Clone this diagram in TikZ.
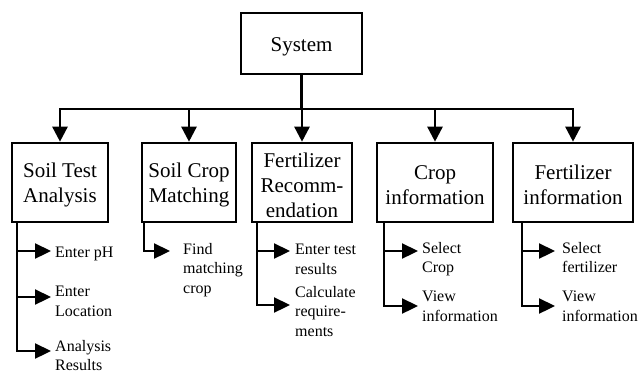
\documentclass[tikz,border=0pt]{standalone}
\usepackage{fontspec}
\setmainfont{Liberation Serif}
\usetikzlibrary{arrows.meta,calc}
\begin{document}
\begin{tikzpicture}[x=1pt,y=-1pt,
  box/.style={draw,line width=2.6pt,minimum height=79pt,inner sep=0pt},
  boxtext/.style={align=center,inner sep=0pt,font=\fontsize{21}{25}\selectfont},
  mainarr/.style={line width=2.5pt,-{Triangle[width=15pt,length=15pt]}},
  trunk/.style={line width=2.5pt},
  subarr/.style={line width=2.3pt,-{Triangle[width=15pt,length=16pt]}},
  lab/.style={anchor=north west,inner sep=0pt,align=left,font=\fontsize{16}{19.5}\selectfont}]
\useasboundingbox (0,0) rectangle (639,373);
% boxes
\node[box,minimum width=121pt,minimum height=61pt] (sys) at (301.5,43.5) {};
\node[box,minimum width=96pt] (b1) at (60,182.5) {};
\node[box,minimum width=94pt] (b2) at (189,182.5) {};
\node[box,minimum width=100pt] (b3) at (302,182.5) {};
\node[box,minimum width=116pt] (b4) at (435,182.5) {};
\node[box,minimum width=120pt] (b5) at (573,182.5) {};
\node[boxtext] (syst) at ([yshift=-3pt]sys.center) {System};
\node[boxtext] (b1t) at ([yshift=-2.5pt]b1.center) {Soil Test\\Analysis};
\node[boxtext] (b2t) at ([yshift=-2.5pt]b2.center) {Soil Crop\\Matching};
\node[boxtext] (b3t) at ([yshift=-2.5pt]b3.center) {Fertilizer\\Recomm-\\endation};
\node[boxtext] (b4t) at ([yshift=-2.5pt]b4.center) {Crop\\information};
\node[boxtext] (b5t) at ([yshift=-2.5pt]b5.center) {Fertilizer\\information};
\coordinate (j) at (sys.south |- 0,109);
\draw[trunk] (sys.south) -- (j);
\foreach \b in {b1,b2,b3,b4,b5} \draw[mainarr] (j) -| (\b.north);
% tips
\coordinate (t11) at (51,251);
\coordinate (t12) at (51,297);
\coordinate (t13) at (51,351);
\coordinate (t21) at (170,251);
\coordinate (t31) at (290,251);
\coordinate (t32) at (290,305);
\coordinate (t41) at (418,251);
\coordinate (t42) at (418,306);
\coordinate (t51) at (555,251);
\coordinate (t52) at (555,306);
% branches
\draw[subarr] ([xshift=6pt]b1.south west) |- (t11);
\draw[subarr] ([xshift=6pt]b1.south west) |- (t12);
\draw[subarr] ([xshift=6pt]b1.south west) |- (t13);
\draw[subarr] ([xshift=3pt]b2.south west) |- (t21);
\draw[subarr] ([xshift=6pt]b3.south west) |- (t31);
\draw[subarr] ([xshift=6pt]b3.south west) |- (t32);
\draw[subarr] ([xshift=8pt]b4.south west) |- (t41);
\draw[subarr] ([xshift=8pt]b4.south west) |- (t42);
\draw[subarr] ([xshift=10pt]b5.south west) |- (t51);
\draw[subarr] ([xshift=10pt]b5.south west) |- (t52);
% labels
\node[lab] (l11) at (55,247) {Enter pH};
\node[lab] (l12) at (55,286) {Enter\\Location};
\node[lab] (l13) at (55,340) {Analysis\\Results};
\node[lab] (l21) at (183,243) {Find\\matching\\crop};
\node[lab] (l31) at (295,244) {Enter test\\results};
\node[lab] (l32) at (295,286) {Calculate\\require-\\ments};
\node[lab] (l41) at (422,242) {Select\\Crop};
\node[lab] (l42) at (422,291) {View\\information};
\node[lab] (l51) at (562,242) {Select\\fertilizer};
\node[lab] (l52) at (562,291) {View\\information};
\end{tikzpicture}
\end{document}
